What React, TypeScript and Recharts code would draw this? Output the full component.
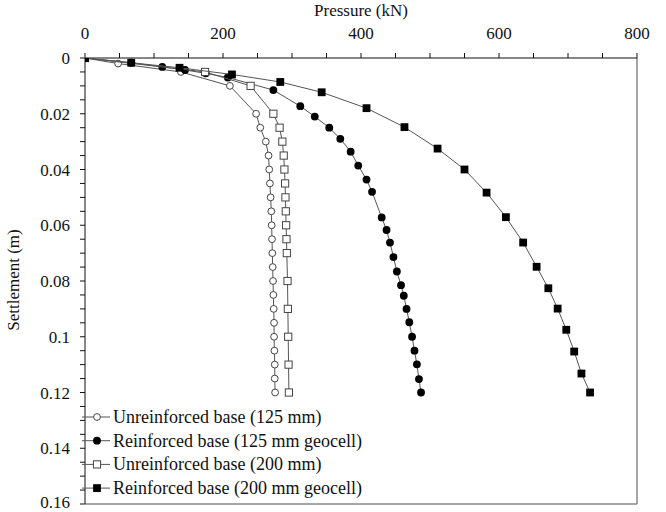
import React from "react";
import {
  ScatterChart,
  Scatter,
  XAxis,
  YAxis,
  ReferenceLine,
} from "recharts";

// settlement (m) / pressure (kN)
const unrein125Settlement = [0, 0.002, 0.005, 0.01, 0.02, 0.025, 0.03, 0.035, 0.04, 0.045, 0.05, 0.055, 0.06, 0.065, 0.07, 0.075, 0.08, 0.085, 0.09, 0.095, 0.1, 0.105, 0.11, 0.115, 0.12];
const unrein125Pressure = [0, 48, 139, 210, 248, 254, 262, 266, 267, 268, 269, 270, 270.5, 271, 271.5, 272, 272.5, 273, 273.5, 274, 274, 274.5, 275, 275, 275.5];

const rein125Settlement = [0, 0.0017, 0.0032, 0.0043, 0.0055, 0.007, 0.0115, 0.0173, 0.021, 0.025, 0.029, 0.0336, 0.0386, 0.0436, 0.048, 0.0572, 0.0617, 0.0662, 0.0714, 0.0766, 0.0815, 0.0853, 0.09, 0.0948, 0.1, 0.105, 0.1099, 0.1152, 0.12];
const rein125Pressure = [0, 67, 112, 145, 175, 207, 273, 312, 333, 354, 370, 385, 396, 408, 416, 430, 437, 442, 447, 452, 458, 462, 466, 470, 474, 477.5, 481, 484, 487];

const unrein200Settlement = [0, 0.005, 0.01, 0.02, 0.025, 0.03, 0.035, 0.04, 0.045, 0.05, 0.055, 0.06, 0.065, 0.07, 0.08, 0.09, 0.1, 0.11, 0.12];
const unrein200Pressure = [0, 174, 240, 273, 282, 286, 288, 289, 290, 290.5, 291, 291.5, 292, 292.5, 293.5, 294, 294.5, 295, 295.5];

const rein200Settlement = [0, 0.0017, 0.0035, 0.0059, 0.0086, 0.0123, 0.018, 0.0248, 0.0325, 0.04, 0.0483, 0.0571, 0.0662, 0.0749, 0.0826, 0.0899, 0.0975, 0.1053, 0.1132, 0.12];
const rein200Pressure = [0, 67, 137, 213, 283, 343, 408, 463, 511, 550, 582, 610, 635, 654.5, 671.5, 685, 697.5, 709, 719.5, 732];

const pressureTicks = [0, 50, 100, 150, 200, 250, 300, 350, 400, 450, 500, 550, 600, 650, 700, 750, 800];
const pressureLabels = [0, 200, 400, 600, 800];
const settlementTicks = [
  0, 0.005, 0.01, 0.015, 0.02, 0.025, 0.03, 0.035, 0.04, 0.045, 0.05, 0.055,
  0.06, 0.065, 0.07, 0.075, 0.08, 0.085, 0.09, 0.095, 0.1, 0.105, 0.11, 0.115,
  0.12, 0.125, 0.13, 0.135, 0.14, 0.145, 0.15, 0.155, 0.16,
];
const settlementLabels = [0, 0.02, 0.04, 0.06, 0.08, 0.1, 0.12, 0.14, 0.16];

const FONT = "'Liberation Serif', 'Times New Roman', 'DejaVu Serif', serif";
const LINE = "#555";
const txt = { fontFamily: FONT };

const toPoints = (p: number[], s: number[]) =>
  p.map((v, i) => ({ pressure: v, settlement: s[i] }));

const OpenCircle = (props: any) => (
  <circle cx={props.cx} cy={props.cy} r={3.4} fill="#fff" stroke="#444" strokeWidth={1} />
);
const FilledCircle = (props: any) => (
  <circle cx={props.cx} cy={props.cy} r={3.9} fill="#000" />
);
const OpenSquare = (props: any) => (
  <rect x={props.cx - 3.6} y={props.cy - 3.6} width={7.2} height={7.2} fill="#fff" stroke="#444" strokeWidth={1} />
);
const FilledSquare = (props: any) => (
  <rect x={props.cx - 3.9} y={props.cy - 3.9} width={7.8} height={7.8} fill="#000" />
);

const series = [
  { name: "Unreinforced base (125 mm)", data: toPoints(unrein125Pressure, unrein125Settlement), shape: OpenCircle },
  { name: "Reinforced base (125 mm geocell)", data: toPoints(rein125Pressure, rein125Settlement), shape: FilledCircle },
  { name: "Unreinforced base (200 mm)", data: toPoints(unrein200Pressure, unrein200Settlement), shape: OpenSquare },
  { name: "Reinforced base (200 mm geocell)", data: toPoints(rein200Pressure, rein200Settlement), shape: FilledSquare },
];

const XTick = ({ x, y, payload }: any) => {
  if (!pressureLabels.includes(payload.value)) return null;
  return (
    <text x={x} y={y - 12} textAnchor="middle" fontSize={17} style={txt} fill="#111">
      {payload.value}
    </text>
  );
};

const YTick = ({ x, y, payload }: any) => {
  if (!settlementLabels.some((v) => Math.abs(v - payload.value) < 1e-9)) return null;
  return (
    <text x={x - 8} y={Math.min(y + 6, 508)} textAnchor="end" fontSize={17} style={txt} fill="#111">
      {String(Number(payload.value.toFixed(3)))}
    </text>
  );
};

export default function App() {
  return (
    <div style={{ position: "absolute", left: 0, top: 0, width: 666, height: 512, background: "#fff", fontFamily: FONT }}>
      <ScatterChart
        width={666}
        height={512}
        margin={{ top: 0, right: 29, bottom: 8, left: 0 }}
      >
        <XAxis
          type="number"
          dataKey="pressure"
          orientation="top"
          domain={[0, 800]}
          ticks={pressureTicks}
          interval={0}
          height={58}
          tickSize={5}
          tickMargin={2}
          tick={<XTick />}
          axisLine={{ stroke: "#111" }}
          tickLine={{ stroke: "#111" }}
          allowDataOverflow
          label={() => (
            <text x={361} y={16} textAnchor="middle" fontSize={17} style={txt} fill="#111">
              Pressure (kN)
            </text>
          )}
        />
        <YAxis
          type="number"
          dataKey="settlement"
          reversed
          domain={[0, 0.16]}
          ticks={settlementTicks}
          interval={0}
          width={85}
          tickSize={5}
          tickMargin={2}
          tick={<YTick />}
          axisLine={{ stroke: "#111" }}
          tickLine={{ stroke: "#111" }}
          allowDataOverflow
          label={() => (
            <text
              x={19}
              y={280}
              transform="rotate(-90 19 280)"
              textAnchor="middle"
              fontSize={17}
              style={txt}
              fill="#111"
            >
              Settlement (m)
            </text>
          )}
        />
        <ReferenceLine x={800} stroke="#888" strokeWidth={1.5} />
        <ReferenceLine y={0.16} stroke="#888" strokeWidth={1.5} />
        {series.map((s) => (
          <Scatter
            key={s.name}
            name={s.name}
            data={s.data}
            line={{ stroke: LINE, strokeWidth: 1 }}
            lineType="joint"
            shape={s.shape}
            isAnimationActive={false}
          />
        ))}
      </ScatterChart>
      {/* legend, lower left inside the plot */}
      <svg width={300} height={100} style={{ position: "absolute", left: 82, top: 405 }}>
        {series.map((s, i) => {
          const cy = 12 + i * 23.7;
          const Shape = s.shape;
          return (
            <g key={s.name}>
              <line x1={0} x2={28} y1={cy} y2={cy} stroke={LINE} strokeWidth={1} />
              <Shape cx={15} cy={cy} />
              <text x={31} y={cy + 6} fontSize={18} style={txt} fill="#111">
                {s.name}
              </text>
            </g>
          );
        })}
      </svg>
    </div>
  );
}
